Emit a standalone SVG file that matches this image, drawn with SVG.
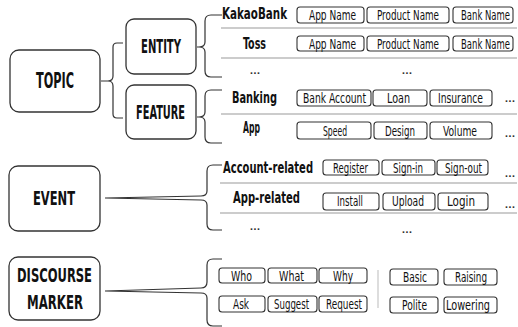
<svg xmlns="http://www.w3.org/2000/svg" width="518" height="327" viewBox="0 0 518 327">
<style>
.main{fill:#fff;stroke:#333;stroke-width:1.3}
.tag{fill:#fff;stroke:#333;stroke-width:1.1}
.mt{font-family:"Liberation Sans Narrow","DejaVu Sans Condensed","DejaVu Sans",sans-serif;font-stretch:condensed;font-weight:bold;font-size:19px;fill:#111;text-anchor:middle}
.rt{font-family:"Liberation Sans Narrow","DejaVu Sans Condensed","DejaVu Sans",sans-serif;font-stretch:condensed;font-weight:bold;font-size:16px;fill:#111}
.tt{font-family:"Liberation Sans Narrow","DejaVu Sans Condensed","DejaVu Sans",sans-serif;font-stretch:condensed;font-size:14px;fill:#111;text-anchor:middle}
.dots{font-family:"DejaVu Sans",sans-serif;font-size:9px;font-weight:bold;fill:#333;text-anchor:middle}
.br{fill:none;stroke:#333;stroke-width:1.2}
.sep{stroke:#999;stroke-width:1}
</style>
<g id="connectors">
<path class="br" d="M123,43 H117 Q113,43 113,47 V76 Q113,81 108,81 H101 M108,81 Q113,81 113,86 V114 Q113,118 117,118 H123"/>
<path class="br" d="M222,15 H211 Q205,15 205,21 V42 Q205,47 199,47 H197 M199,47 Q205,47 205,52 V71 Q205,77 211,77 H222"/>
<path class="br" d="M222,90 H211 Q205,90 205,96 V112 Q205,117 199,117 H197 M199,117 Q205,117 205,122 V137 Q205,143 211,143 H222"/>
<path class="br" d="M222,165 H213 Q207,165 207,171 V191 Q207,196 201,196 L105,198 L201,200 Q207,200 207,205 V224 Q207,230 213,230 H222"/>
<path class="br" d="M222,259 H213 Q207,259 207,265 V282 Q207,288 201,288 L105,291 L201,293 Q207,293 207,298 V320 Q207,326 213,326 H222"/>
<line class="sep" x1="221" y1="28" x2="517" y2="28"/>
<line class="sep" x1="221" y1="58" x2="517" y2="58"/>
<line class="sep" x1="221" y1="114" x2="517" y2="114"/>
<line class="sep" x1="220" y1="183" x2="517" y2="183"/>
<line class="sep" x1="220" y1="213" x2="517" y2="213"/>
<line x1="378" y1="270" x2="378" y2="308" stroke="#bbb" stroke-width="1"/>
</g>
<g id="topic"><rect class="main" x="10" y="50" width="90" height="62" rx="9"/><text class="mt" transform="translate(55,88) scale(0.7,1)" textLength="54.3" lengthAdjust="spacingAndGlyphs" style="font-size:21px">TOPIC</text></g>
<g id="entity"><rect class="main" x="126" y="19" width="70" height="55" rx="8"/><text class="mt" transform="translate(161,53) scale(0.7,1)" textLength="57.1" lengthAdjust="spacingAndGlyphs">ENTITY</text></g>
<g id="feature"><rect class="main" x="126" y="85" width="70" height="54" rx="8"/><text class="mt" transform="translate(160.5,119) scale(0.7,1)" textLength="70" lengthAdjust="spacingAndGlyphs">FEATURE</text></g>
<g id="event"><rect class="main" x="9" y="166" width="91" height="65" rx="9"/><text class="mt" transform="translate(54,205) scale(0.7,1)" textLength="60" lengthAdjust="spacingAndGlyphs">EVENT</text></g>
<g id="discourse-marker"><rect class="main" x="9" y="257" width="91" height="63" rx="9"/><text class="mt" transform="translate(54.5,282) scale(0.7,1)" textLength="107.1" lengthAdjust="spacingAndGlyphs" style="font-size:20px">DISCOURSE</text><text class="mt" transform="translate(55,309) scale(0.7,1)" textLength="80" lengthAdjust="spacingAndGlyphs" style="font-size:20px">MARKER</text></g>

<g id="kakaobank">
<text class="rt" transform="translate(222,18.5) scale(0.7,1)" textLength="92.9" lengthAdjust="spacingAndGlyphs">KakaoBank</text>
<rect class="tag" x="297" y="7" width="67" height="16" rx="3"/><text class="tt" transform="translate(332.5,20) scale(0.75,1)" textLength="62.7" lengthAdjust="spacingAndGlyphs">App Name</text>
<rect class="tag" x="367" y="7" width="82" height="16" rx="3"/><text class="tt" transform="translate(408,20) scale(0.75,1)" textLength="82.7" lengthAdjust="spacingAndGlyphs">Product Name</text>
<rect class="tag" x="453" y="7" width="60" height="16" rx="3"/><text class="tt" transform="translate(485.5,20) scale(0.75,1)" textLength="65.3" lengthAdjust="spacingAndGlyphs">Bank Name</text>
</g>
<g id="toss">
<text class="rt" transform="translate(243,48.5) scale(0.7,1)" textLength="32.9" lengthAdjust="spacingAndGlyphs">Toss</text>
<rect class="tag" x="297" y="36" width="67" height="15" rx="3"/><text class="tt" transform="translate(332.5,48.5) scale(0.75,1)" textLength="62.7" lengthAdjust="spacingAndGlyphs">App Name</text>
<rect class="tag" x="367" y="36" width="82" height="15" rx="3"/><text class="tt" transform="translate(408,48.5) scale(0.75,1)" textLength="82.7" lengthAdjust="spacingAndGlyphs">Product Name</text>
<rect class="tag" x="453" y="36" width="60" height="15" rx="3"/><text class="tt" transform="translate(485.5,48.5) scale(0.75,1)" textLength="65.3" lengthAdjust="spacingAndGlyphs">Bank Name</text>
</g>
<g id="entity-more"><text class="dots" x="255" y="74">...</text><text class="dots" x="407" y="74">...</text></g>

<g id="banking">
<text class="rt" transform="translate(232,103) scale(0.7,1)" textLength="64.3" lengthAdjust="spacingAndGlyphs">Banking</text>
<rect class="tag" x="297" y="90" width="74" height="16" rx="3"/><text class="tt" transform="translate(334.5,103) scale(0.75,1)" textLength="84" lengthAdjust="spacingAndGlyphs">Bank Account</text>
<rect class="tag" x="373" y="90" width="54" height="16" rx="3"/><text class="tt" transform="translate(398.5,103) scale(0.75,1)" textLength="30.7" lengthAdjust="spacingAndGlyphs">Loan</text>
<rect class="tag" x="430" y="90" width="62" height="16" rx="3"/><text class="tt" transform="translate(460.5,103) scale(0.75,1)" textLength="60" lengthAdjust="spacingAndGlyphs">Insurance</text>
<text class="dots" x="510" y="102">...</text>
</g>
<g id="app">
<text class="rt" transform="translate(243,133) scale(0.7,1)" textLength="24.3" lengthAdjust="spacingAndGlyphs">App</text>
<rect class="tag" x="297" y="122" width="74" height="17" rx="3"/><text class="tt" transform="translate(335,136) scale(0.75,1)" textLength="32" lengthAdjust="spacingAndGlyphs">Speed</text>
<rect class="tag" x="374" y="122" width="53" height="17" rx="3"/><text class="tt" transform="translate(400,136) scale(0.75,1)" textLength="40" lengthAdjust="spacingAndGlyphs">Design</text>
<rect class="tag" x="430" y="122" width="62" height="17" rx="3"/><text class="tt" transform="translate(460,136) scale(0.75,1)" textLength="45.3" lengthAdjust="spacingAndGlyphs">Volume</text>
<text class="dots" x="510" y="137">...</text>
</g>

<g id="account-related">
<text class="rt" transform="translate(223,173) scale(0.7,1)" textLength="128.6" lengthAdjust="spacingAndGlyphs">Account-related</text>
<rect class="tag" x="323" y="160" width="56" height="15" rx="3"/><text class="tt" transform="translate(350.5,172.5) scale(0.75,1)" textLength="46.7" lengthAdjust="spacingAndGlyphs">Register</text>
<rect class="tag" x="382" y="160" width="53" height="15" rx="3"/><text class="tt" transform="translate(408,172.5) scale(0.75,1)" textLength="40" lengthAdjust="spacingAndGlyphs">Sign-in</text>
<rect class="tag" x="437" y="160" width="51" height="15" rx="3"/><text class="tt" transform="translate(463.5,172.5) scale(0.75,1)" textLength="49.3" lengthAdjust="spacingAndGlyphs">Sign-out</text>
<text class="dots" x="510" y="177">...</text>
</g>
<g id="app-related">
<text class="rt" transform="translate(233,203) scale(0.7,1)" textLength="95.7" lengthAdjust="spacingAndGlyphs">App-related</text>
<rect class="tag" x="323" y="193" width="56" height="17" rx="3"/><text class="tt" transform="translate(350,206) scale(0.75,1)" textLength="34.7" lengthAdjust="spacingAndGlyphs">Install</text>
<rect class="tag" x="383" y="193" width="52" height="17" rx="3"/><text class="tt" transform="translate(408,206) scale(0.75,1)" textLength="42.7" lengthAdjust="spacingAndGlyphs">Upload</text>
<rect class="tag" x="438" y="193" width="50" height="17" rx="3"/><text class="tt" transform="translate(461,206) scale(0.75,1)" textLength="37.3" lengthAdjust="spacingAndGlyphs">Login</text>
<text class="dots" x="510" y="208">...</text>
</g>
<g id="event-more"><text class="dots" x="255" y="230">...</text><text class="dots" x="407" y="233">...</text></g>

<g id="wh-markers">
<rect class="tag" x="219" y="268" width="46" height="15" rx="3"/><text class="tt" transform="translate(241.5,281) scale(0.75,1)" textLength="28" lengthAdjust="spacingAndGlyphs">Who</text>
<rect class="tag" x="268" y="268" width="49" height="15" rx="3"/><text class="tt" transform="translate(291.5,281) scale(0.75,1)" textLength="33.3" lengthAdjust="spacingAndGlyphs">What</text>
<rect class="tag" x="319" y="268" width="48" height="15" rx="3"/><text class="tt" transform="translate(343,281) scale(0.75,1)" textLength="26.7" lengthAdjust="spacingAndGlyphs">Why</text>
</g>
<g id="act-markers">
<rect class="tag" x="219" y="296" width="46" height="16" rx="3"/><text class="tt" transform="translate(241,308.5) scale(0.75,1)" textLength="21.3" lengthAdjust="spacingAndGlyphs">Ask</text>
<rect class="tag" x="268" y="296" width="49" height="16" rx="3"/><text class="tt" transform="translate(291.5,308.5) scale(0.75,1)" textLength="46.7" lengthAdjust="spacingAndGlyphs">Suggest</text>
<rect class="tag" x="319" y="296" width="48" height="16" rx="3"/><text class="tt" transform="translate(344,308.5) scale(0.75,1)" textLength="48" lengthAdjust="spacingAndGlyphs">Request</text>
</g>
<g id="tone-markers">
<rect class="tag" x="390" y="269" width="48" height="16" rx="3"/><text class="tt" transform="translate(415,282) scale(0.75,1)" textLength="32" lengthAdjust="spacingAndGlyphs">Basic</text>
<rect class="tag" x="444" y="269" width="53" height="16" rx="3"/><text class="tt" transform="translate(471,282) scale(0.75,1)" textLength="42.7" lengthAdjust="spacingAndGlyphs">Raising</text>
<rect class="tag" x="390" y="297" width="48" height="16" rx="3"/><text class="tt" transform="translate(414.5,309.5) scale(0.75,1)" textLength="33.3" lengthAdjust="spacingAndGlyphs">Polite</text>
<rect class="tag" x="444" y="297" width="53" height="16" rx="3"/><text class="tt" transform="translate(468,309.5) scale(0.75,1)" textLength="58.7" lengthAdjust="spacingAndGlyphs">Lowering</text>
</g>
</svg>
